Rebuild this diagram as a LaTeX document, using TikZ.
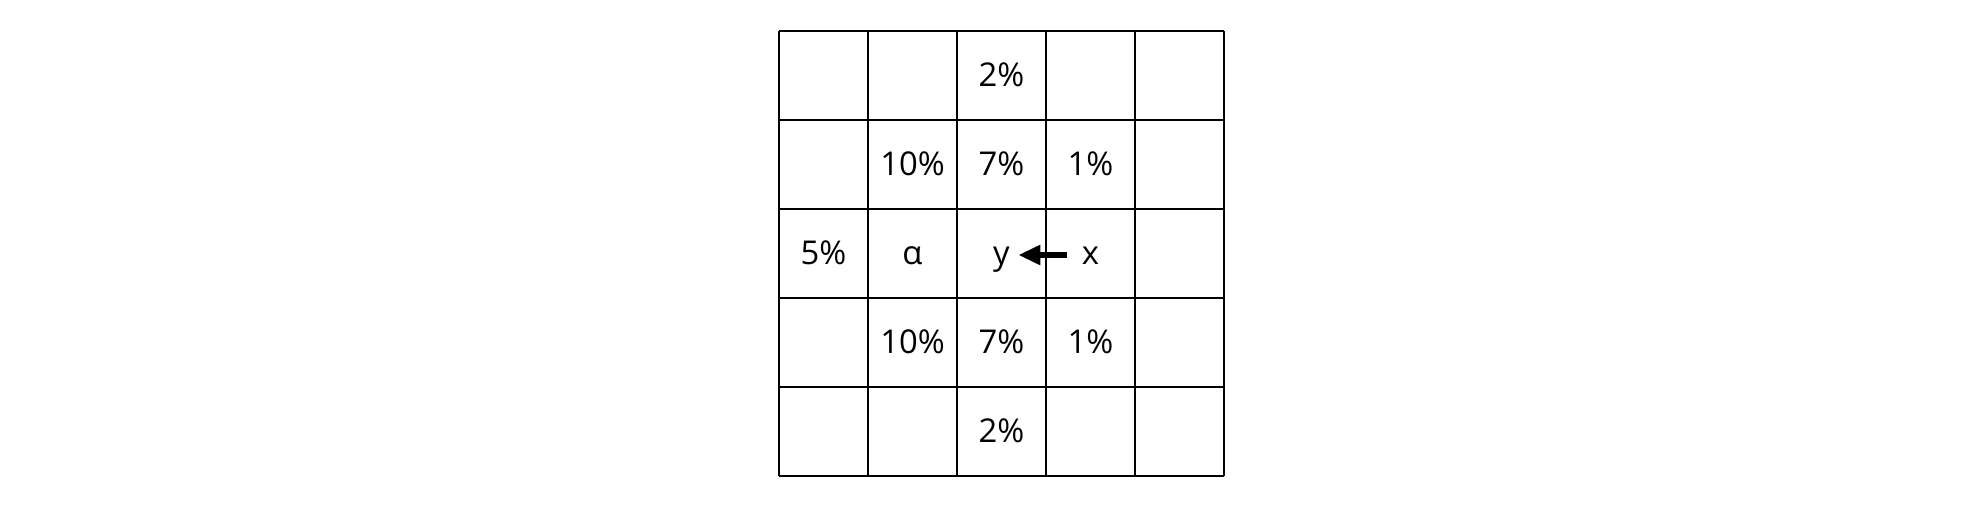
\documentclass[tikz,border=0pt]{standalone}
\usepackage{fontspec}
\setmainfont{Open Sans}
\usetikzlibrary{arrows.meta}
\begin{document}
\begin{tikzpicture}[x=0.5pt,y=-0.5pt,
  gridline/.style={line width=0.95pt,black},
  lbl/.style={font=\fontsize{16.4pt}{19pt}\selectfont,inner sep=0pt,anchor=base},
  arrowline/.style={line width=3pt,-{Triangle[length=11pt,width=9.5pt]}}]
\useasboundingbox (0,0) rectangle (1986,504);
\foreach \i in {0,...,5}{
  \draw[gridline] (779+89*\i,31) -- (779+89*\i,476);
  \draw[gridline] (779,31+89*\i) -- (1224,31+89*\i);
}
% baselines: y = 86.5 + 89*row ; x centres = 823.5 + 89*col
\node[lbl] (t2)  at (1001.5,86.5) {2\%};
\node[lbl] (m10) at (912.5,175.5) {10\%};
\node[lbl] (m7)  at (1001.5,175.5) {7\%};
\node[lbl] (m1)  at (1090.5,175.5) {1\%};
\node[lbl] (c5)  at (823.5,264.5) {5\%};
\node[lbl] (ca)  at (912.5,264.5) {α};
\node[lbl] (cy)  at (1001.5,264.5) {y};
\node[lbl] (cx)  at (1090.5,264.5) {x};
\node[lbl] (n10) at (912.5,353.5) {10\%};
\node[lbl] (n7)  at (1001.5,353.5) {7\%};
\node[lbl] (n1)  at (1090.5,353.5) {1\%};
\node[lbl] (b2)  at (1001.5,442.5) {2\%};
\draw[arrowline] ([xshift=-7.1pt,yshift=4.75pt]cx.base west) -- ([xshift=4.1pt,yshift=4.75pt]cy.base east);
\end{tikzpicture}
\end{document}
